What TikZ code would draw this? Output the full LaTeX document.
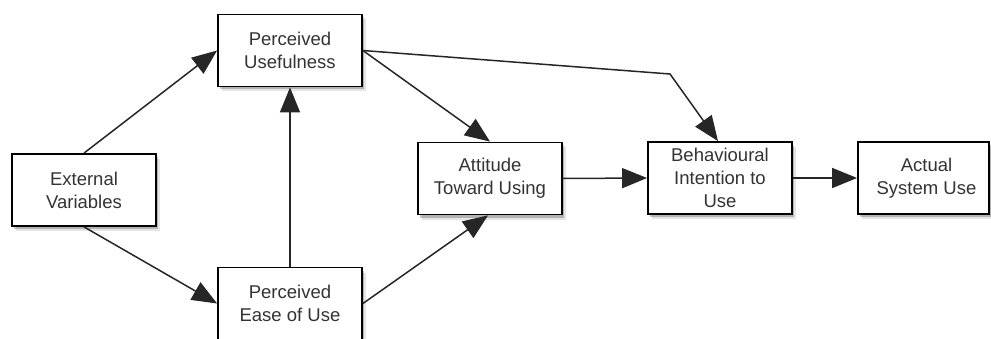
\documentclass[tikz,border=0pt]{standalone}
\usepackage{fontspec}
\setmainfont{Liberation Sans}
\usetikzlibrary{arrows.meta,shadows}
\begin{document}
\begin{tikzpicture}[x=1pt,y=1pt,
  box/.style={draw=black, line width=1.8pt, fill=white, minimum width=144pt, minimum height=72pt,
    inner sep=0pt, align=center, text=black!80,
    font=\fontsize{18.5}{23}\selectfont,
    general shadow={shadow xshift=2pt, shadow yshift=-3pt, fill=black, opacity=0.22},
    general shadow={shadow xshift=4pt, shadow yshift=-5pt, fill=black, opacity=0.10}},
  conn/.style={draw=black!85, line width=1.5pt, -{Triangle[length=25pt,width=20pt]}}]
\useasboundingbox (0,0) rectangle (991,338);
\node[box] (EV) at (84,148) {External\\Variables};
\node[box] (PU) at (290,287.5) {Perceived\\Usefulness};
\node[box] (PEOU) at (290,34.5) {Perceived\\Ease of Use};
\node[box] (ATU) at (490,159.5) {Attitude\\Toward Using};
\node[box] (BI) at (720,160) {Behavioural\\Intention to\\Use};
\node[box, minimum width=131pt] (ASU) at (923.5,160) {\hspace*{6pt}Actual\\\hspace*{6pt}System Use};
\coordinate (bend) at (670,264);
\draw[conn] (EV.north) -- (PU.west);
\draw[conn] (EV.south) -- (PEOU.west);
\draw[conn] (PEOU.north) -- (PU.south);
\draw[conn] (PU.east) -- (ATU.north);
\draw[conn] (PU.east) -- (bend) -- ([xshift=-2pt]BI.north);
\draw[conn] (PEOU.east) -- ([xshift=-2pt]ATU.south);
\draw[conn] (ATU.east) -- (BI.west);
\draw[conn] (BI.east) -- (ASU.west);
\end{tikzpicture}
\end{document}
